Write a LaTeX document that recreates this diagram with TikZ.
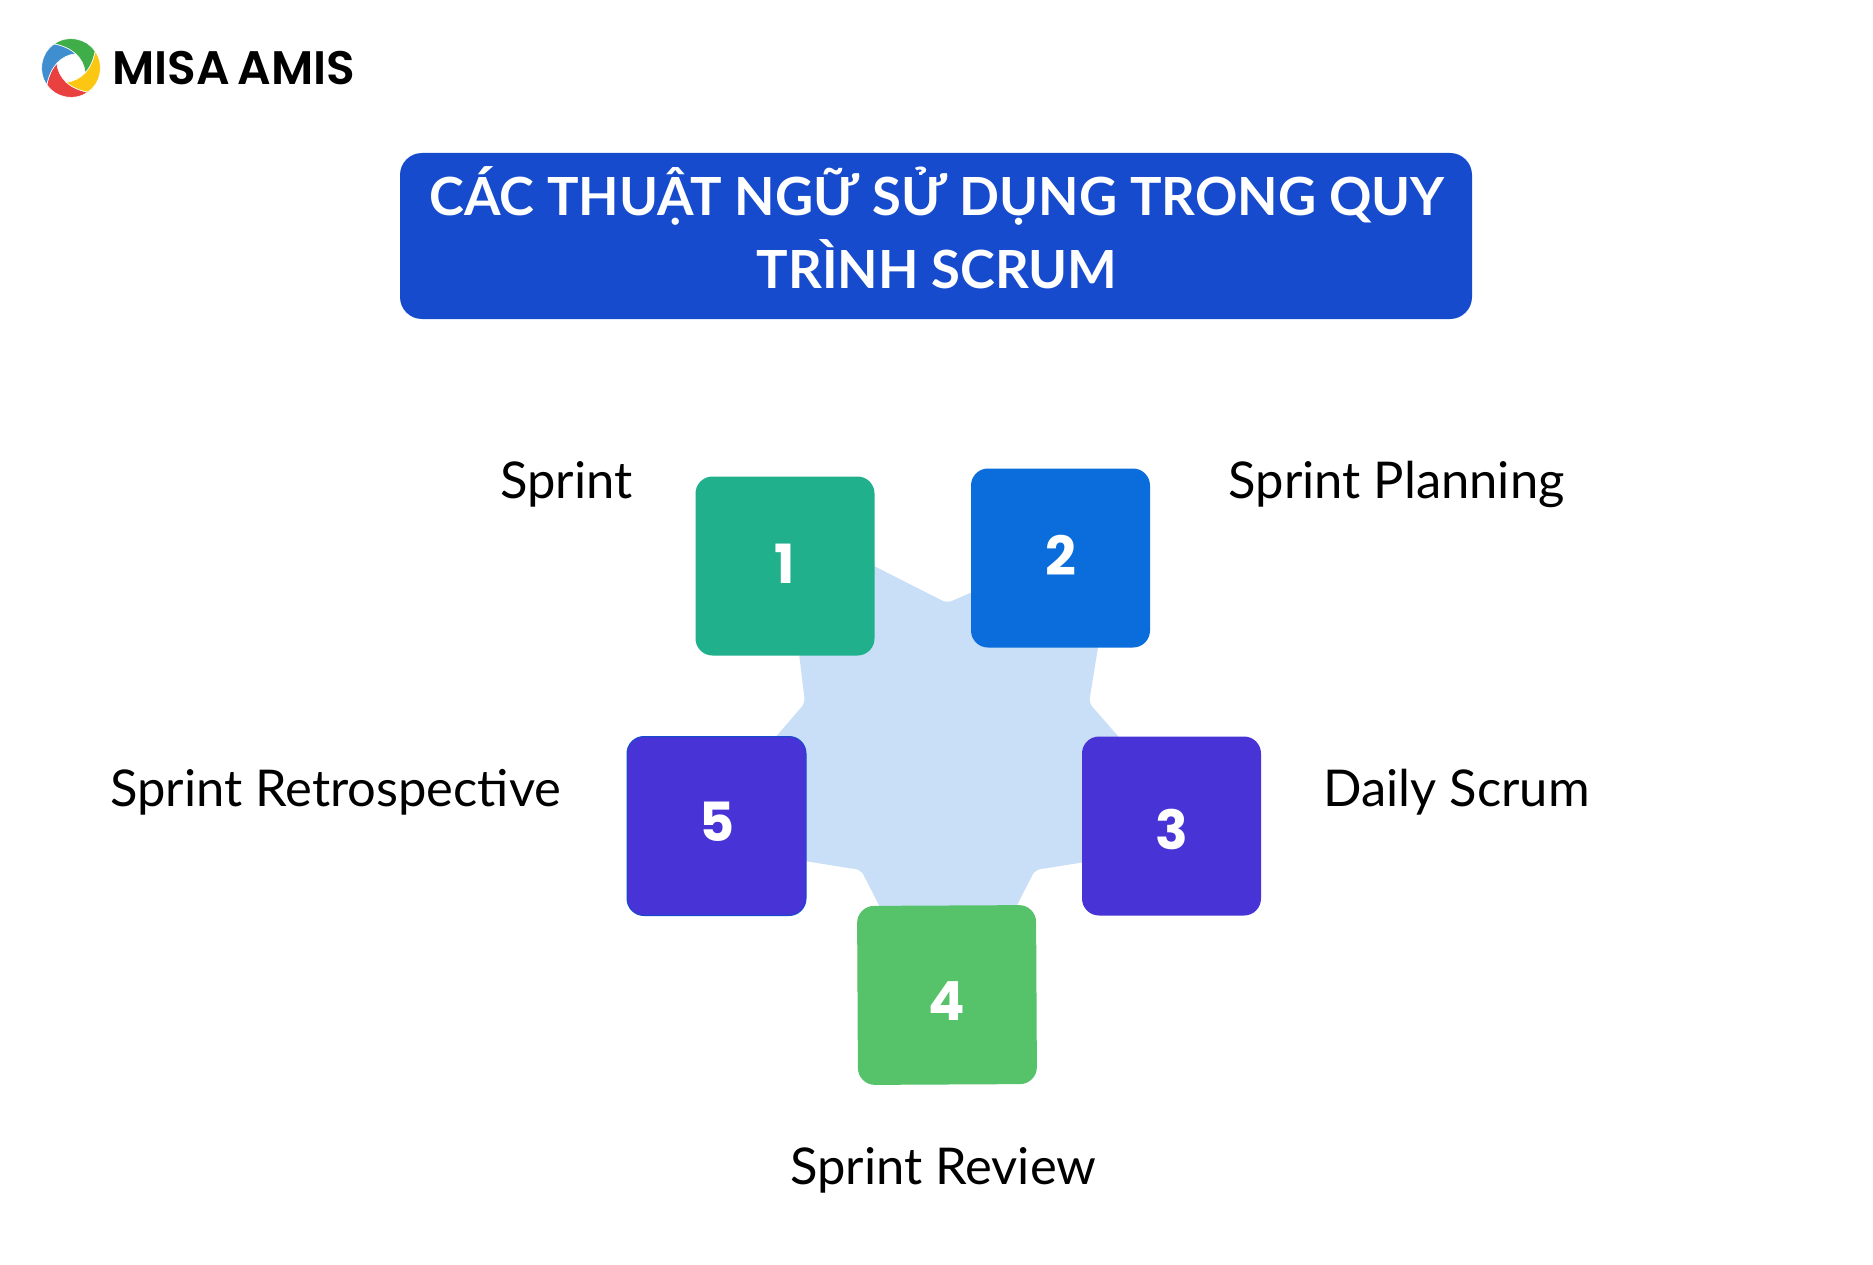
\documentclass[tikz,border=0pt]{standalone}
\usepackage{fontspec}
\setmainfont{Lato}
\newfontfamily\titlefont{Lato}
\newfontfamily\logofont{Poppins SemiBold}
\newfontfamily\digitfont{Poppins}
\definecolor{starblue}{HTML}{C9DEF7}
\definecolor{titleblue}{HTML}{174BCE}
\definecolor{sqteal}{HTML}{20B08C}
\definecolor{sqblue}{HTML}{0A6DDB}
\definecolor{sqviolet}{HTML}{4733D6}
\definecolor{sqgreen}{HTML}{56C26A}
\definecolor{logogreen}{HTML}{3FAE49}
\definecolor{logoyellow}{HTML}{FBC712}
\definecolor{logored}{HTML}{E8413F}
\definecolor{logoblue}{HTML}{3F8FD0}
\tikzset{
  square/.style={minimum width=179pt,minimum height=179pt,inner sep=0pt,rounded corners=17pt},
  numtext/.style={text=white,inner sep=0pt,font=\digitfont\fontsize{54}{54}\selectfont\bfseries},
  label/.style={inner sep=0pt,anchor=base west,text=black,font=\fontsize{50.7}{50.7}\selectfont},
}
\begin{document}
\begin{tikzpicture}[x=1pt,y=-1pt]
\useasboundingbox (0,0) rectangle (1873,1265);
\fill[white] (0,0) rectangle (1873,1265);
% logo
\begin{scope}[shift={(71,68)},y=1pt]
  \foreach \ang/\col in {180/logored,270/logoyellow,90/logoblue,0/logogreen}{
    \fill[\col,draw=white,line width=0.6pt,rotate=\ang]
      (-16.9,24.1) arc[start angle=125,end angle=35,radius=29.4]
      .. controls (22.5,8) and (19,0.5) .. (14.2,-4.9)
      .. controls (13,10) and (1,21) .. (-16.9,24.1) -- cycle;
  }
\end{scope}
\node[anchor=base west,inner sep=0pt,font=\logofont\fontsize{47}{47}\selectfont] (logotext) at (112,85) {MISA\hspace{-3pt} AMIS};
% title
\node[fill=titleblue,rounded corners=22pt,minimum width=1072pt,minimum height=166pt,inner sep=0pt] (titlebox) at (936,236) {};
\node[text=white,inner sep=0pt,font=\titlefont\bfseries\fontsize{52.6}{73}\selectfont,align=center] (titletext) at (937,227.5) {CÁC THUẬT NGỮ SỬ DỤNG TRONG QUY\\TRÌNH SCRUM};
% star
\fill[starblue,rounded corners=5pt] (783,520) -- (947,603) -- (1117,530) -- (1089,703) -- (1211,842) -- (1035,870) -- (948,1040) -- (861,870) -- (685,842) -- (805,703) -- cycle;
% squares
\node[square,fill=sqteal] (s1) at (785,566) {};
\node[square,fill=sqblue] (s2) at (1060.5,558) {};
\node[square,fill=sqviolet] (s3) at (1171.5,826) {};
\node[square,fill=sqgreen,rotate=0.3] (s4) at (947,995) {};
\node[square,fill=sqviolet,draw=titleblue,line width=1pt] (s5) at (716.5,826) {};
\node[numtext] (n1) at (785,564) {1};
\node[numtext] (n2) at (1061,555) {2};
\node[numtext] (n3) at (1172,829) {3};
\node[numtext] (n4) at (947,1001) {4};
\node[numtext] (n5) at (717,822) {5};
% labels
\node[label] (l1) at (500,498) {Sprint};
\node[label] (l2) at (1228.5,498) {Sprint Planning};
\node[label] (l3) at (1323,806) {Daily Scrum};
\node[label] (l4) at (790,1184.5) {Sprint Review};
\node[label] (l5) at (110,806) {Sprint Retrospective};
\end{tikzpicture}
\end{document}
